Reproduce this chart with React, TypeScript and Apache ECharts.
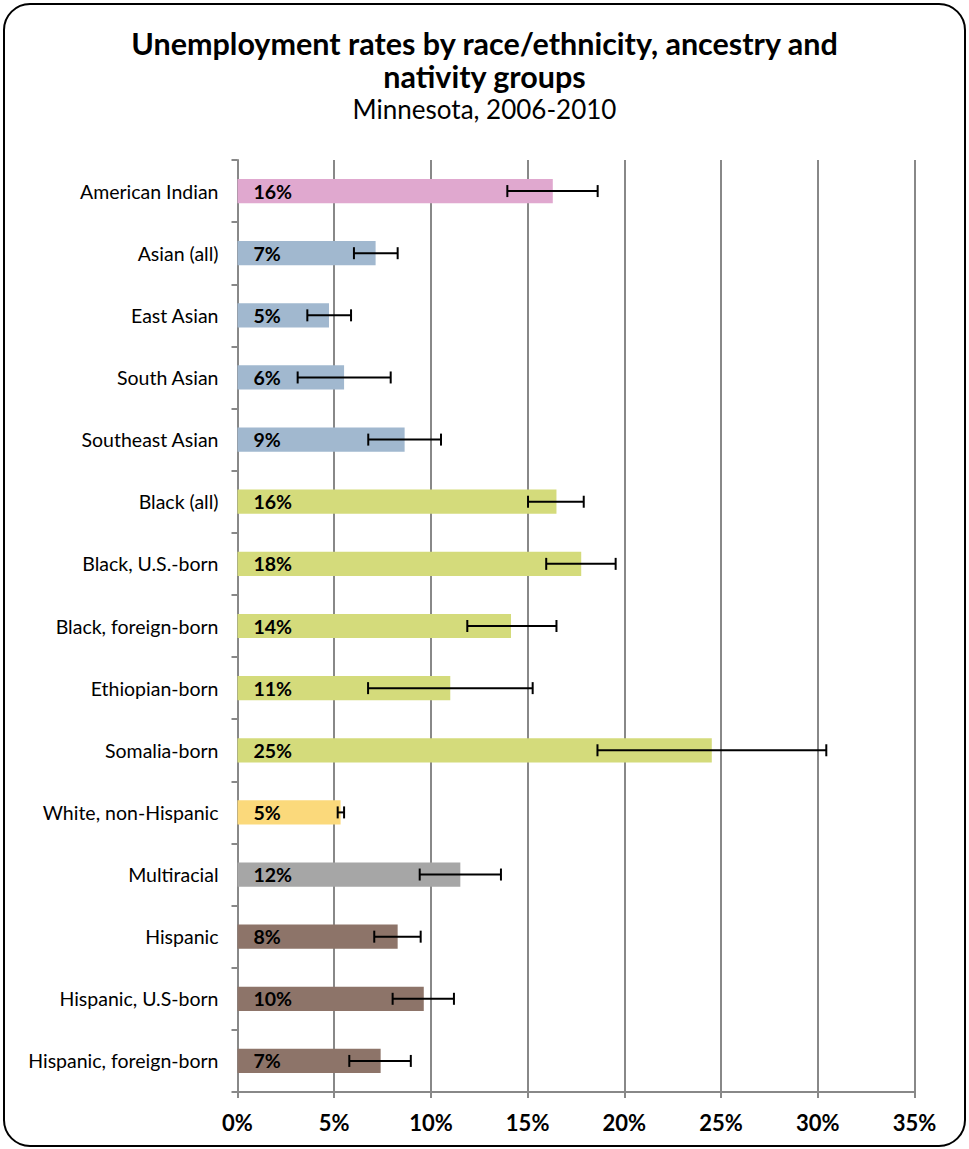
import React, { useEffect, useRef } from "react";
import * as echarts from "echarts";

const categories = [
  "American Indian",
  "Asian (all)",
  "East Asian",
  "South Asian",
  "Southeast Asian",
  "Black (all)",
  "Black, U.S.-born",
  "Black, foreign-born",
  "Ethiopian-born",
  "Somalia-born",
  "White, non-Hispanic",
  "Multiracial",
  "Hispanic",
  "Hispanic, U.S-born",
  "Hispanic, foreign-born",
];
const rates = [16.3, 7.14, 4.73, 5.51, 8.64, 16.49, 17.77, 14.14, 11.0, 24.52, 5.33, 11.52, 8.28, 9.63, 7.4];
const lowBounds = [13.95, 6.02, 3.61, 3.11, 6.76, 15.02, 15.96, 11.88, 6.75, 18.61, 5.18, 9.42, 7.07, 8.02, 5.78];
const highBounds = [18.62, 8.28, 5.87, 7.92, 10.52, 17.9, 19.55, 16.49, 15.26, 30.44, 5.51, 13.62, 9.47, 11.19, 8.96];
const barColors = [
  "#E0A8CF",
  "#A1B8CF",
  "#A1B8CF",
  "#A1B8CF",
  "#A1B8CF",
  "#D4DB7B",
  "#D4DB7B",
  "#D4DB7B",
  "#D4DB7B",
  "#D4DB7B",
  "#FBD97B",
  "#A6A6A6",
  "#8D7469",
  "#8D7469",
  "#8D7469",
];
const xMin = 0;
const xMax = 35;
const xStep = 5;

const FONT = "Lato, 'Open Sans', sans-serif";

export default function App() {
  const ref = useRef<HTMLDivElement>(null);

  useEffect(() => {
    document.body.style.margin = "0";
    if (!ref.current) return;
    const chart = echarts.init(ref.current, null, { renderer: "svg" });

    const barData = rates.map((v, i) => ({
      value: v,
      itemStyle: { color: barColors[i] },
    }));
    const errData = categories.map((_, i) => [i, lowBounds[i], highBounds[i]]);

    chart.setOption({
      animation: false,
      backgroundColor: "#ffffff",
      textStyle: { fontFamily: FONT },
      title: {
        text: "Unemployment rates by race/ethnicity, ancestry and\nnativity groups",
        subtext: "Minnesota, 2006-2010",
        left: "center",
        top: 21,
        itemGap: 2,
        textStyle: {
          fontFamily: FONT,
          fontSize: 30.5,
          fontWeight: "bold",
          color: "#000",
          lineHeight: 33,
        },
        subtextStyle: {
          fontFamily: FONT,
          fontSize: 26,
          color: "#000",
          lineHeight: 30,
        },
      },
      graphic: [
        {
          type: "rect",
          shape: { x: 4, y: 4, width: 961, height: 1142, r: 26 },
          style: { fill: "none", stroke: "#000", lineWidth: 2 },
          silent: true,
          z: 100,
        },
      ],
      grid: { left: 237.5, right: 54.5, top: 160, bottom: 57, containLabel: false },
      xAxis: {
        type: "value",
        min: xMin,
        max: xMax,
        interval: xStep,
        axisLine: { show: true, lineStyle: { color: "#888", width: 2 } },
        axisTick: { show: true, length: 6, lineStyle: { color: "#888", width: 2 } },
        splitLine: { show: true, lineStyle: { color: "#888", width: 2 } },
        axisLabel: {
          formatter: (v: number) => `${v}%`,
          fontFamily: FONT,
          fontSize: 22,
          fontWeight: "bold",
          color: "#000",
          margin: 19,
        },
      },
      yAxis: {
        type: "category",
        data: categories,
        inverse: true,
        axisLine: { show: true, lineStyle: { color: "#888", width: 2 } },
        axisTick: { show: true, length: 6, lineStyle: { color: "#888", width: 2 } },
        axisLabel: {
          fontFamily: FONT,
          fontSize: 19.5,
          color: "#000",
          margin: 19,
        },
      },
      series: [
        {
          type: "bar",
          data: barData,
          barWidth: "39%",
          label: {
            show: true,
            position: "insideLeft",
            distance: 16,
            formatter: (p: any) => `${Math.round(p.value)}%`,
            fontFamily: FONT,
            fontSize: 19.5,
            fontWeight: "bold",
            color: "#000",
          },
          z: 2,
        },
        {
          type: "custom",
          data: errData,
          z: 5,
          renderItem: (params: any, api: any) => {
            const idx = api.value(0);
            const lo = api.coord([api.value(1), idx]);
            const hi = api.coord([api.value(2), idx]);
            const h = 6;
            const style = { stroke: "#000", lineWidth: 2 };
            return {
              type: "group",
              children: [
                { type: "line", shape: { x1: lo[0], y1: lo[1], x2: hi[0], y2: hi[1] }, style },
                { type: "line", shape: { x1: lo[0], y1: lo[1] - h, x2: lo[0], y2: lo[1] + h }, style },
                { type: "line", shape: { x1: hi[0], y1: hi[1] - h, x2: hi[0], y2: hi[1] + h }, style },
              ],
            };
          },
        },
      ],
    });

    return () => chart.dispose();
  }, []);

  return <div ref={ref} style={{ width: 969, height: 1149 }} />;
}
